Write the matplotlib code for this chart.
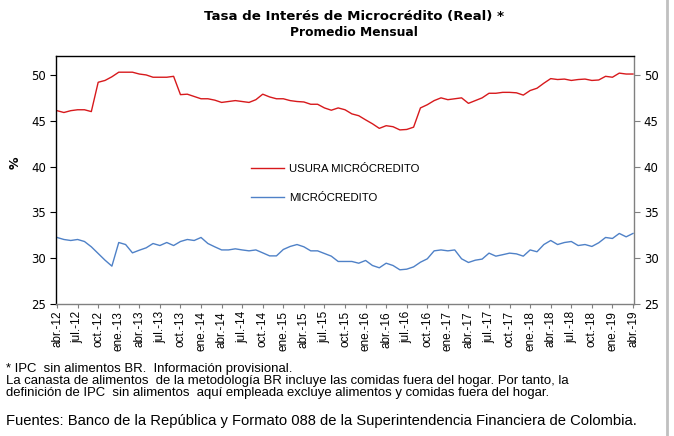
import numpy as np
import matplotlib
matplotlib.use('Agg')
import matplotlib.pyplot as plt
from matplotlib.lines import Line2D

#==================datos======================#
# meses abr-12 ... abr-19
tick_labels = ['abr.-12', 'jul.-12', 'oct.-12', 'ene.-13', 'abr.-13', 'jul.-13', 'oct.-13',
               'ene.-14', 'abr.-14', 'jul.-14', 'oct.-14', 'ene.-15', 'abr.-15', 'jul.-15',
               'oct.-15', 'ene.-16', 'abr.-16', 'jul.-16', 'oct.-16', 'ene.-17', 'abr.-17',
               'jul.-17', 'oct.-17', 'ene.-18', 'abr.-18', 'jul.-18', 'oct.-18', 'ene.-19',
               'abr.-19']

usura = [46.1, 45.9, 46.1, 46.2, 46.2, 46.0, 49.2, 49.4, 49.8, 50.3,
         50.3, 50.3, 50.1, 50.0, 49.75, 49.75, 49.75, 49.85, 47.85, 47.9,
         47.65, 47.4, 47.4, 47.25, 47.0, 47.1, 47.2, 47.1, 47.0, 47.3,
         47.9, 47.6, 47.4, 47.4, 47.2, 47.1, 47.05, 46.8, 46.8, 46.4,
         46.15, 46.4, 46.2, 45.75, 45.55, 45.1, 44.67, 44.17, 44.46, 44.35,
         44.0, 44.05, 44.3, 46.4, 46.75, 47.2, 47.5, 47.3, 47.4, 47.5,
         46.9, 47.2, 47.5, 48.0, 48.0, 48.1, 48.1, 48.05, 47.8, 48.3,
         48.55, 49.1, 49.6, 49.5, 49.55, 49.4, 49.5, 49.55, 49.4, 49.45,
         49.85, 49.75, 50.2, 50.1, 50.1]

micro = [32.26, 32.04, 31.93, 32.04, 31.82, 31.24, 30.51, 29.78, 29.13, 31.71,
         31.49, 30.58, 30.87, 31.13, 31.6, 31.38, 31.71, 31.38, 31.82, 32.04,
         31.93, 32.26, 31.6, 31.24, 30.9, 30.9, 31.02, 30.9, 30.8, 30.9,
         30.58, 30.25, 30.25, 30.95, 31.28, 31.49, 31.24, 30.8, 30.8, 30.51,
         30.22, 29.64, 29.64, 29.64, 29.45, 29.75, 29.2, 28.95, 29.45, 29.2,
         28.73, 28.8, 29.05, 29.56, 29.93, 30.8, 30.9, 30.8, 30.9, 29.93,
         29.53, 29.78, 29.9, 30.55, 30.22, 30.38, 30.55, 30.47, 30.22, 30.9,
         30.7, 31.49, 31.93, 31.49, 31.71, 31.82, 31.38, 31.49, 31.28, 31.68,
         32.26, 32.15, 32.7, 32.33, 32.7]

yticks = [25, 30, 35, 40, 45, 50]

#==================grafico======================#
fig = plt.figure(figsize=(6.74, 4.36), dpi=100)
ax = fig.add_axes([0.0831, 0.3028, 0.8576, 0.5688])

x = np.arange(len(usura))
ax.plot(x, usura, color='#d7191c', lw=1.0, label='USURA MICRÓCREDITO')
ax.plot(x, micro, color='#4f81c7', lw=1.0, label='MICRÓCREDITO')

ax.set_xlim(-0.15, 84.15)
ax.set_ylim(25, 52.07)
ax.set_yticks(yticks)
ax.set_xticks(np.arange(0, len(usura), 3))
ax.set_xticklabels(tick_labels, rotation=90, fontsize=8.5, family='Liberation Sans')
ax.tick_params(axis='x', length=3, width=0.8, color='#808080', pad=2)
ax.tick_params(axis='y', length=4, width=0.8, labelsize=8.5, pad=3)
for lab in ax.get_yticklabels():
    lab.set_family('DejaVu Sans')
ax.spines['left'].set_color('black')
ax.spines['top'].set_color('black')
ax.spines['bottom'].set_color('#808080')
ax.spines['right'].set_color('#808080')
for s in ax.spines.values():
    s.set_linewidth(1.0)

ax2 = ax.twinx()
ax2.set_ylim(ax.get_ylim())
ax2.set_yticks(yticks)
ax2.tick_params(axis='y', length=4, width=0.8, color='#808080', labelsize=8.5, pad=3)
for s in ax2.spines.values():
    s.set_visible(False)

ax.set_ylabel('%', fontsize=9, fontweight='bold', rotation=90)
ax.yaxis.set_label_coords(-0.059, 0.568)

leg = ax.legend(loc='upper left', bbox_to_anchor=(0.337, 0.565), frameon=False,
                prop={'family': 'Liberation Sans', 'size': 8.2}, handlelength=2.9,
                handletextpad=0.45, labelspacing=1.7, borderpad=0, borderaxespad=0)

fig.text(0.525, 0.962, 'Tasa de Interés de Microcrédito (Real) *', ha='center', va='center',
         fontsize=9.6, fontweight='bold', family='DejaVu Sans')
fig.text(0.525, 0.925, 'Promedio Mensual', ha='center', va='center',
         fontsize=8.8, fontweight='bold', family='DejaVu Sans')

notas = ('* IPC  sin alimentos BR.  Información provisional.\n'
         'La canasta de alimentos  de la metodología BR incluye las comidas fuera del hogar. Por tanto, la\n'
         'definición de IPC  sin alimentos  aquí empleada excluye alimentos y comidas fuera del hogar.')
fig.text(0.009, 0.126, notas, ha='left', va='center', fontsize=9.45, family='Liberation Sans',
         linespacing=0.98)
fig.text(0.009, 0.034, 'Fuentes: Banco de la República y Formato 088 de la Superintendencia Financiera de Colombia.',
         ha='left', va='center', fontsize=10.6, family='Liberation Sans')

fig.add_artist(Line2D([0.9896, 0.9896], [0, 1], color='#c0c0c0', lw=2))

fig.savefig('out.png', dpi=100)
